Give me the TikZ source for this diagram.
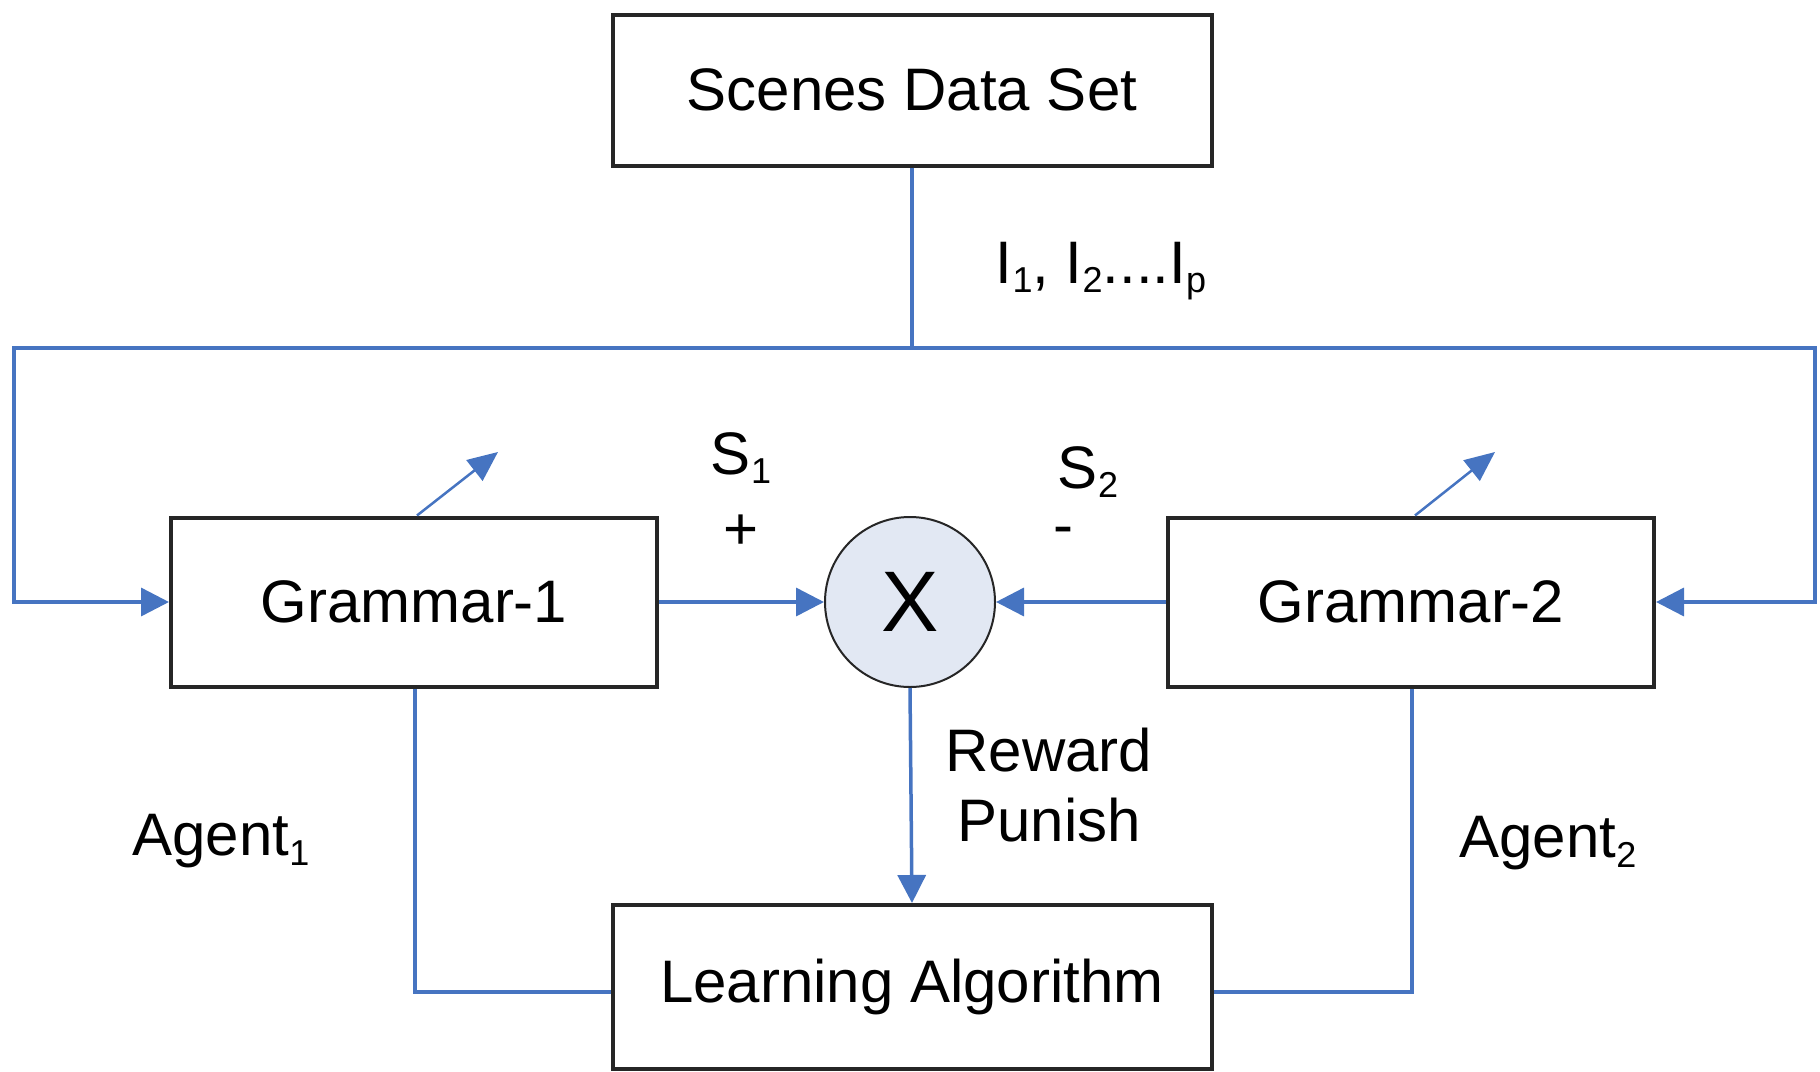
\documentclass[tikz,border=0pt]{standalone}
\usepackage{fontspec}
\setmainfont{Liberation Sans}
\usetikzlibrary{arrows.meta}
\definecolor{flowblue}{HTML}{4674C1}
\definecolor{boxline}{HTML}{262626}
\definecolor{junctionfill}{HTML}{E2E8F3}
% small, slightly lowered index set close to its letter
\newcommand\idx[1]{\raisebox{-0.16em}{\fontsize{36}{40}\selectfont #1}}
\begin{document}
\begin{tikzpicture}[x=1pt,y=-1pt,
  txt/.style={font=\fontsize{60}{70}\selectfont, inner sep=0pt},
  block/.style={draw=boxline, line width=4pt, fill=white, txt},
  conn/.style={draw=flowblue, line width=3.5pt},
  flow/.style={conn, -{Triangle[length=28pt,width=28pt]}},
  adjust/.style={draw=flowblue, line width=2.5pt, -{Triangle[length=30pt,width=26pt]}},
]
\useasboundingbox (0,0) rectangle (1820,1071);

% blocks
\node[block, minimum width=599pt, minimum height=151pt] (scenes) at (912,90) {Scenes Data Set};
\node[block, minimum width=486pt, minimum height=169pt] (g1) at (414,602) {Grammar-1};
\node[block, minimum width=486pt, minimum height=169pt] (g2) at (1411,602) {Grammar-2};
\node[block, minimum width=599pt, minimum height=164pt] (learn) at (912,987) {Learning Algorithm};
\node[circle, draw=boxline, line width=2pt, fill=junctionfill, minimum size=170pt, inner sep=0pt,
      font=\fontsize{86}{90}\selectfont] (mix) at (910,602) {X};

% distribution of the scenes to both grammars
\coordinate (tap) at (912,348);
\coordinate (tl) at (14,348);
\coordinate (bl) at (14,602);
\coordinate (tr) at (1815,348);
\coordinate (br) at (1815,602);
\draw[conn] (scenes.south) -- (tap);
\draw[flow] (tap) -- (tl) -- (bl) -- (g1.west);
\draw[flow] (tap) -- (tr) -- (br) -- (g2.east);

% grammar outputs into the comparator
\draw[flow] (g1.east) -- (mix.west);
\draw[flow] (g2.west) -- (mix.east);

% comparator result to the learner
\draw[flow] (mix.south) -- (learn.north);

% learner updates the grammars
\coordinate (lb) at (415,992);
\coordinate (rb) at (1412,992);
\draw[conn] (learn.west |- lb) -- (lb) -- (lb |- g1.south);
\draw[conn] (learn.east |- rb) -- (rb) -- (rb |- g2.south);

% adjustable grammars
\coordinate (a1) at (498,452);
\coordinate (a2) at (1495,452);
\draw[adjust] (g1.north -| 417,0) -- (a1);
\draw[adjust] (g2.north -| 1415,0) -- (a2);

% labels
\node[txt] (ilab) at (1101,271) {I\idx{1}, I\idx{2}....I\idx{p}};
\node[txt] (s1) at (741,458) {S\idx{1}};
\node[txt] (plus) at (741,532) {+};
\node[txt] (s2) at (1088,472) {S\idx{2}};
\node[txt] (minus) at (1063,536) {-};
\node[txt, align=center] (rp) at (1049,785) {Reward\\Punish};
\node[txt] (ag1) at (221,841) {Agent\idx{1}};
\node[txt] (ag2) at (1548,843) {Agent\idx{2}};
\end{tikzpicture}
\end{document}
